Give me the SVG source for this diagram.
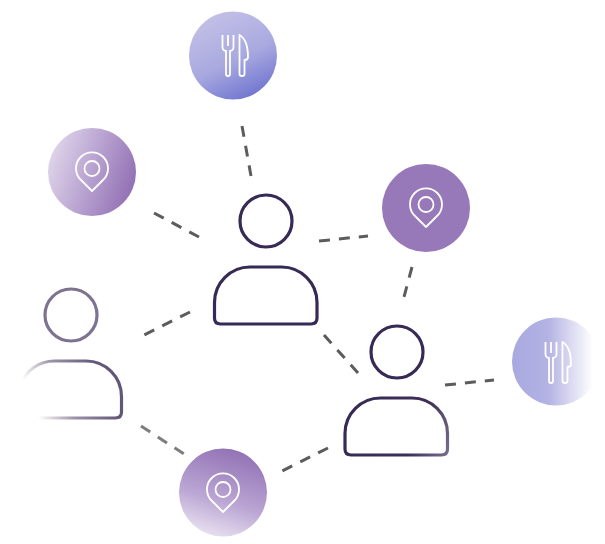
<svg xmlns="http://www.w3.org/2000/svg" width="605" height="544" viewBox="0 0 605 544">
<defs>
<linearGradient id="gTop" gradientUnits="userSpaceOnUse" x1="212" y1="14" x2="252" y2="98"><stop offset="0" stop-color="#c3c0e6"/><stop offset="0.55" stop-color="#a9a9e0"/><stop offset="1" stop-color="#6f75cf"/></linearGradient>
<linearGradient id="gLeft" gradientUnits="userSpaceOnUse" x1="50" y1="158" x2="134" y2="188"><stop offset="0" stop-color="#ded3e9"/><stop offset="0.45" stop-color="#bba6d3"/><stop offset="1" stop-color="#9270b3"/></linearGradient>
<linearGradient id="gBottom" gradientUnits="userSpaceOnUse" x1="237" y1="450" x2="210" y2="535"><stop offset="0" stop-color="#9272b5"/><stop offset="0.6" stop-color="#bba6d4"/><stop offset="1" stop-color="#e6dfef"/></linearGradient>
<linearGradient id="gRight" gradientUnits="userSpaceOnUse" x1="512" y1="361" x2="597" y2="361"><stop offset="0" stop-color="#a9a9e0"/><stop offset="0.42" stop-color="#b3b2e3"/><stop offset="0.95" stop-color="#ffffff"/></linearGradient>
<linearGradient id="gFade" gradientUnits="userSpaceOnUse" x1="23" y1="380" x2="92" y2="352"><stop offset="0" stop-color="#ffffff"/><stop offset="0.45" stop-color="#9a92a8"/><stop offset="1" stop-color="#635779"/></linearGradient>
<linearGradient id="gP2" gradientUnits="userSpaceOnUse" x1="345" y1="420" x2="447" y2="460"><stop offset="0" stop-color="#372a55"/><stop offset="0.65" stop-color="#3b2e58"/><stop offset="1" stop-color="#7a6f8e"/></linearGradient>
<g id="pin"><path d="M0 19 L-11.500 7.500 A16 16 0 1 1 11.500 7.500 Z" stroke-linejoin="round"/><circle cx="0" cy="-3.500" r="7.500"/></g>
<g id="cut"><path d="M-10.500 -20 V-8 Q-10.500 -4.500 -7 -4 V19 Q-7 21 -5 21 Q-3 21 -3 19 V-4 Q0.500 -4.500 0.500 -8 V-20 M-5 -20 V-9"/><path d="M6.500 -20 Q15 -15 15 2 Q15 5 11.500 5 V19 Q11.500 21 9 21 Q6.500 21 6.500 19 Z" stroke-linejoin="round"/></g>
</defs>
<style>
.ic{fill:none;stroke:#fff;stroke-width:1.800}
.p{fill:none;stroke-width:3.200}
.c{stroke:#5c5c5c;stroke-width:3;stroke-dasharray:11 9;fill:none}
</style>
<g id="connectors">
<path class="c" d="M242 126L251 176"/>
<path class="c" d="M154 213L199 237"/>
<path class="c" d="M319 241L368 236"/>
<path class="c" d="M412 267L404 297"/>
<path class="c" d="M324 335L358 373"/>
<path class="c" d="M190 312L144 335"/>
<path class="c" d="M445 385L494 380"/>
<path class="c" d="M328 448L282 471"/>
<path class="c" d="M141 426L184 454" stroke-opacity="0.8"/>
</g>
<g id="node-fork-top"><circle cx="233" cy="55.500" r="44" fill="url(#gTop)"/><use href="#cut" class="ic" x="233" y="55"/></g>
<g id="node-pin-left"><circle cx="92" cy="172" r="44" fill="url(#gLeft)"/><use href="#pin" class="ic" x="92" y="172"/></g>
<g id="node-pin-right"><circle cx="426" cy="208" r="44" fill="#9778b8"/><use href="#pin" class="ic" x="426" y="208"/></g>
<g id="node-pin-bottom"><circle cx="223" cy="492.500" r="44" fill="url(#gBottom)"/><use href="#pin" class="ic" x="223" y="493"/></g>
<g id="node-fork-right"><circle cx="556" cy="361.500" r="44" fill="url(#gRight)"/><use href="#cut" class="ic" x="556" y="362"/></g>
<g id="person-center"><circle class="p" cx="266" cy="221" r="26" stroke="#372a55"/><path class="p" stroke="#372a55" d="M214.500 318V302.500A35.500 35.500 0 0 1 250 267H281.500A35.500 35.500 0 0 1 317 302.500V318Q317 324 311 324H220.500Q214.500 324 214.500 318Z"/></g>
<g id="person-right"><circle class="p" cx="397" cy="352" r="26" stroke="#372a55"/><path class="p" stroke="url(#gP2)" d="M345 449V433.500A35.500 35.500 0 0 1 380.500 398H412A35.500 35.500 0 0 1 447.500 433.500V449Q447.500 455 441.500 455H351Q345 455 345 449Z"/></g>
<g id="person-left"><circle class="p" cx="71" cy="315" r="26" stroke="#7d7390"/><path class="p" stroke="url(#gFade)" d="M21 384A35.500 35.500 0 0 1 54.500 361H86A35.500 35.500 0 0 1 121.500 396.500V412Q121.500 418 115.500 418H38"/></g>
</svg>
